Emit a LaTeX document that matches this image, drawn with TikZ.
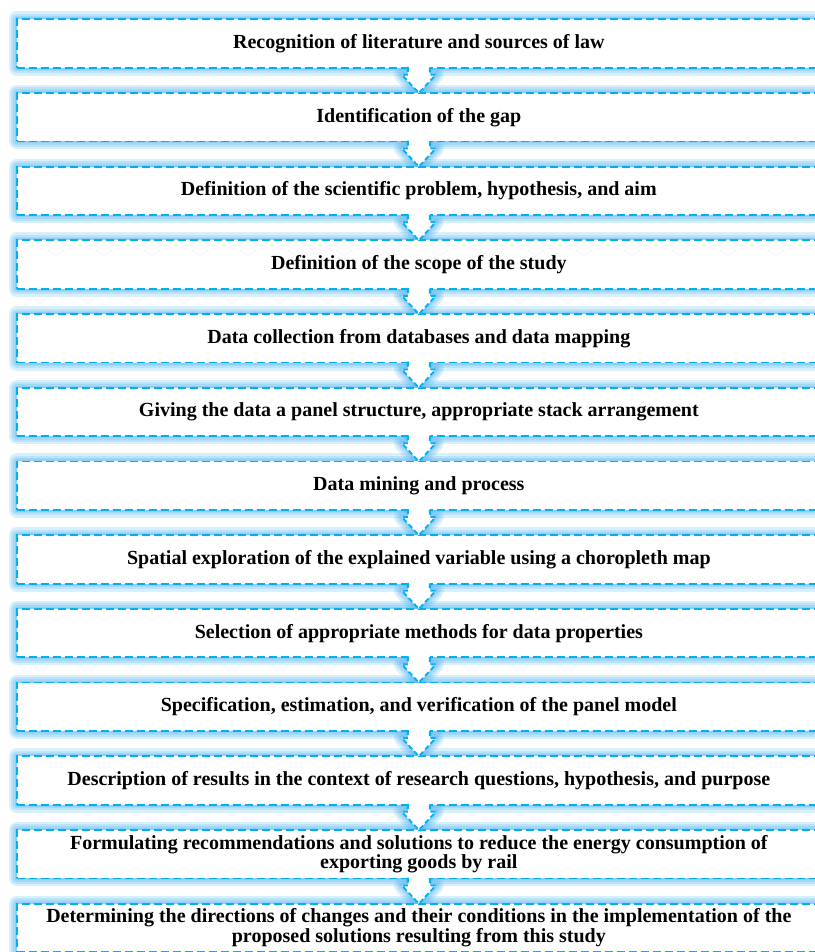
\documentclass[tikz,border=0pt]{standalone}
\usepackage{fontspec}
\setmainfont{Liberation Serif}
\usetikzlibrary{positioning, calc, backgrounds}
\definecolor{dashcyan}{RGB}{0,176,240}
\definecolor{glowblue}{RGB}{80,180,240}

\begin{document}
\begin{tikzpicture}[
    x=1pt, y=1pt,
    font=\fontsize{20}{18}\selectfont\bfseries,
    stepbox/.style ={rectangle, fill=white, draw=dashcyan, line width=1.8pt,
                     dash pattern=on 8pt off 4pt, minimum width=804.3pt,
                     minimum height=48.5pt, inner sep=0pt, outer sep=0pt,
                     align=center},
    glow/.style    ={draw=glowblue, opacity=0.22, line join=round},
    flowline/.style={draw=dashcyan, line width=1.8pt,
                     dash pattern=on 5pt off 3pt},
  ]
  \useasboundingbox (0,0) rectangle (814,-952);

  % ---- steps of the study (one column, right edge runs off the page) ----
  \node[stepbox] (b1) at (418.85,-43.5) {Recognition of literature and sources of law};
  \node[stepbox, below=25.2pt of b1]  (b2)  {Identification of the gap};
  \node[stepbox, below=25.2pt of b2]  (b3)  {Definition of the scientific problem, hypothesis, and aim};
  \node[stepbox, below=25.2pt of b3]  (b4)  {Definition of the scope of the study};
  \node[stepbox, below=25.2pt of b4]  (b5)  {Data collection from databases and data mapping};
  \node[stepbox, below=25.2pt of b5]  (b6)  {Giving the data a panel structure, appropriate stack arrangement};
  \node[stepbox, below=25.2pt of b6]  (b7)  {Data mining and process};
  \node[stepbox, below=25.2pt of b7]  (b8)  {Spatial exploration of the explained variable using a choropleth map};
  \node[stepbox, below=25.2pt of b8]  (b9)  {Selection of appropriate methods for data properties};
  \node[stepbox, below=25.2pt of b9]  (b10) {Specification, estimation, and verification of the panel model};
  \node[stepbox, below=25.2pt of b10] (b11) {Description of results in the context of research questions, hypothesis, and purpose};
  \node[stepbox, below=25.2pt of b11] (b12) {Formulating recommendations and solutions to reduce the energy consumption of\\exporting goods by rail};
  \node[stepbox, below=25.2pt of b12] (b13) {Determining the directions of changes and their conditions in the implementation of the\\proposed solutions resulting from this study};

  % ---- soft blue glow behind boxes and arrows ----
  \begin{scope}[on background layer]
    \foreach \i in {1,...,13}
      \foreach \w in {16,11,7,4}
        \draw[glow, line width=\w pt] (b\i.north west) rectangle (b\i.south east);
    \foreach \up/\dn in {b1/b2, b2/b3, b3/b4, b4/b5, b5/b6, b6/b7, b7/b8,
                         b8/b9, b9/b10, b10/b11, b11/b12, b12/b13}
      \foreach \w in {16,11,7,4}
        \draw[glow, line width=\w pt] ($(\up.south)+(-11,0)$) -- ($(\up.south)+(-11,-7)$)
          -- ($(\up.south)+(-17,-7)$) -- (\dn.north) -- ($(\up.south)+(17,-7)$)
          -- ($(\up.south)+(11,-7)$) -- ($(\up.south)+(11,0)$);
  \end{scope}

  % ---- block arrows between consecutive steps (open at the top) ----
  \foreach \up/\dn in {b1/b2, b2/b3, b3/b4, b4/b5, b5/b6, b6/b7, b7/b8,
                       b8/b9, b9/b10, b10/b11, b11/b12, b12/b13} {
    \fill[white] ($(\up.south)+(-11,2)$) -- ($(\up.south)+(-11,-7)$)
      -- ($(\up.south)+(-17,-7)$) -- (\dn.north) -- ($(\up.south)+(17,-7)$)
      -- ($(\up.south)+(11,-7)$) -- ($(\up.south)+(11,2)$) -- cycle;
    \draw[flowline] ($(\up.south)+(-11,0.9)$) -- ($(\up.south)+(-11,-7)$)
      -- ($(\up.south)+(-17,-7)$) -- (\dn.north) -- ($(\up.south)+(17,-7)$)
      -- ($(\up.south)+(11,-7)$) -- ($(\up.south)+(11,0.9)$);
  }

\end{tikzpicture}
\end{document}
